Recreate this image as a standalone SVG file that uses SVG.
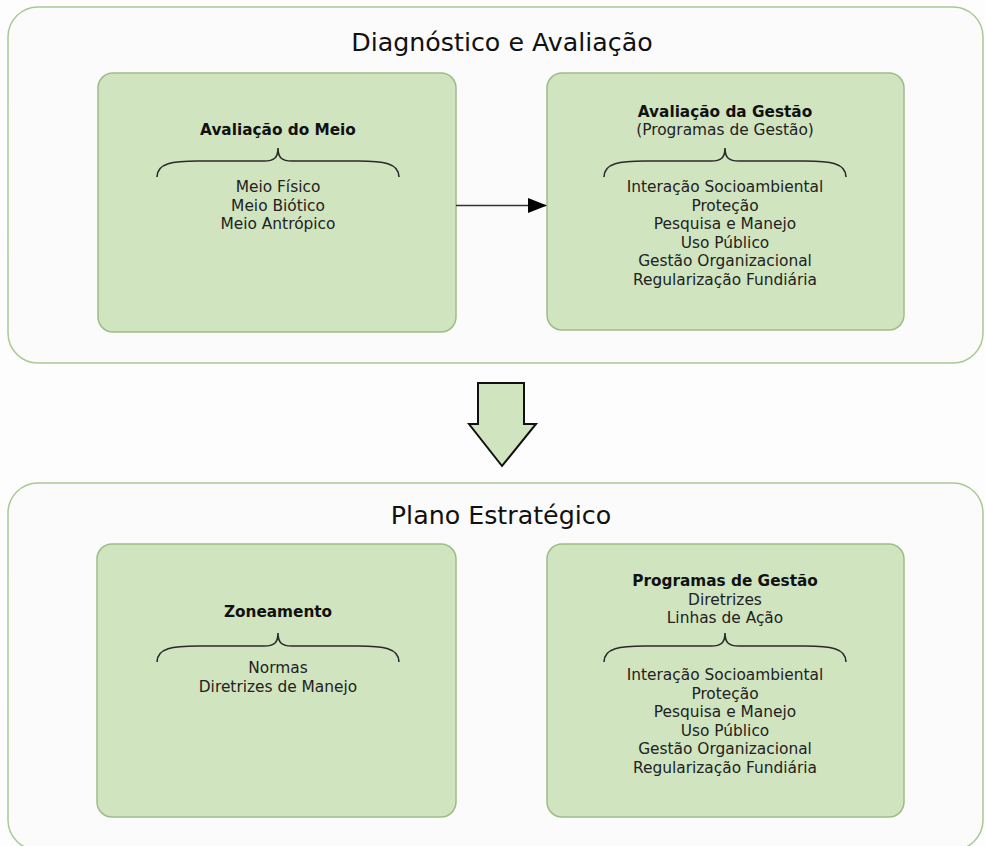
<svg xmlns="http://www.w3.org/2000/svg" width="985" height="846" viewBox="0 0 985 846">
<defs>
<style>
.outer{fill:#fbfbfb;stroke:#a9c993;stroke-width:1.5}
.inner{fill:#d0e4bf;stroke:#9cbd86;stroke-width:1.5}
.title{font-family:"DejaVu Sans",Verdana,sans-serif;font-size:25.3px;fill:#111;text-anchor:middle}
.b{font-family:"DejaVu Sans",Verdana,sans-serif;font-size:15.3px;font-weight:bold;fill:#111;text-anchor:middle}
.t{font-family:"DejaVu Sans",Verdana,sans-serif;font-size:15.4px;fill:#222;text-anchor:middle}
.brace{fill:none;stroke:#2a2a2a;stroke-width:1.6}
</style>
<marker id="ah" markerWidth="20" markerHeight="16" refX="18" refY="7.5" orient="auto" markerUnits="userSpaceOnUse">
<path d="M0,0 L19,7.5 L0,15 Z" fill="#000"/>
</marker>
<path id="br" d="M-121,29 C-121,15 -105,13 -80,13 L-14,13 C-4,13 0,10 0,0 C0,10 4,13 14,13 L80,13 C105,13 121,15 121,29"/>
</defs>
<rect width="985" height="846" fill="#fdfdfd"/>

<g id="diagnostico">
<rect class="outer" x="8" y="7" width="975" height="356" rx="30"/>
<text class="title" x="502" y="51">Diagnóstico e Avaliação</text>
</g>

<g id="avaliacao-meio">
<rect class="inner" x="98" y="73" width="358" height="259" rx="15"/>
<text class="b" x="278" y="135">Avaliação do Meio</text>
<use href="#br" class="brace" x="278" y="148"/>
<text class="t" x="278" y="192">Meio Físico</text>
<text class="t" x="278" y="210.5">Meio Biótico</text>
<text class="t" x="278" y="229">Meio Antrópico</text>
</g>

<g id="avaliacao-gestao">
<rect class="inner" x="547" y="73" width="357" height="257" rx="15"/>
<text class="b" x="725" y="117">Avaliação da Gestão</text>
<text class="t" x="725" y="135">(Programas de Gestão)</text>
<use href="#br" class="brace" x="725" y="148"/>
<text class="t" x="725" y="192">Interação Socioambiental</text>
<text class="t" x="725" y="210.5">Proteção</text>
<text class="t" x="725" y="229">Pesquisa e Manejo</text>
<text class="t" x="725" y="247.5">Uso Público</text>
<text class="t" x="725" y="266">Gestão Organizacional</text>
<text class="t" x="725" y="284.5">Regularização Fundiária</text>
</g>

<g id="plano">
<rect class="outer" x="8" y="483" width="975" height="367" rx="30"/>
<text class="title" x="501" y="524">Plano Estratégico</text>
</g>

<g id="zoneamento">
<rect class="inner" x="97" y="544" width="359" height="273" rx="15"/>
<text class="b" x="278" y="617">Zoneamento</text>
<use href="#br" class="brace" x="278" y="633"/>
<text class="t" x="278" y="673">Normas</text>
<text class="t" x="278" y="691.5">Diretrizes de Manejo</text>
</g>

<g id="programas">
<rect class="inner" x="547" y="544" width="357" height="273" rx="15"/>
<text class="b" x="725" y="586">Programas de Gestão</text>
<text class="t" x="725" y="604.5">Diretrizes</text>
<text class="t" x="725" y="623">Linhas de Ação</text>
<use href="#br" class="brace" x="725" y="633"/>
<text class="t" x="725" y="680">Interação Socioambiental</text>
<text class="t" x="725" y="698.5">Proteção</text>
<text class="t" x="725" y="717">Pesquisa e Manejo</text>
<text class="t" x="725" y="735.5">Uso Público</text>
<text class="t" x="725" y="754">Gestão Organizacional</text>
<text class="t" x="725" y="772.5">Regularização Fundiária</text>
</g>

<g id="connectors">
<line x1="456" y1="205.5" x2="546" y2="205.5" stroke="#333" stroke-width="1.3" marker-end="url(#ah)"/>
<path d="M478,383 L524,383 L524,424 L536,424 L502,466 L469,424 L478,424 Z" fill="#d0e4bf" stroke="#111" stroke-width="2" stroke-linejoin="miter"/>
</g>
</svg>
